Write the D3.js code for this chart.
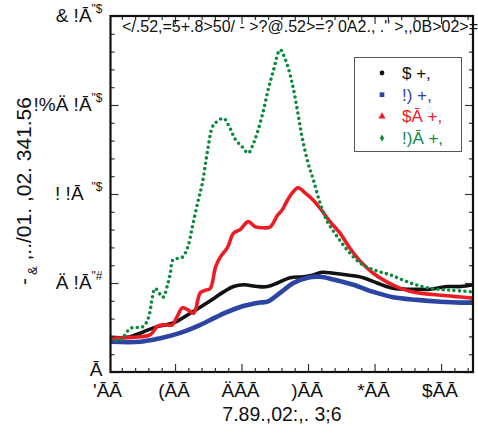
<!DOCTYPE html>
<html>
<head>
<meta charset="utf-8">
<script src="https://cdn.jsdelivr.net/npm/d3@7"></script>
<style>
  body { margin: 0; background: #fff; }
  svg { display: block; }
  text { font-family: "Liberation Sans", Arial, Helvetica, sans-serif; white-space: pre; }
</style>
</head>
<body>
<script>
// Tick positions and their labels
const xTickValues = [300, 400, 500, 600, 700, 800];
const xTickLabels = ["'ĀĀ", "(ĀĀ", "ÄĀĀ", ")ĀĀ", "*ĀĀ", "$ĀĀ"];
const yTickValues = [0, 1, 2, 3, 4];
const yTickMain = ["Ā", "Ä !Ā", "! !Ā", "!%Ä !Ā", "& !Ā"];
const yTickSup = ["", "\"#", "\"$", "\"$", "\"$"];

// Series names and colours
const seriesNames = ["$ +,", "!) +,", "$Ā +,", "!)Ā +,"];
const seriesColors = ["#111111", "#2d45a2", "#ec1c24", "#0b8a3e"];

// Measured curves: [x, y]
const blackSeries = [[303,0.39],[328,0.39],[352,0.45],[373,0.51],[397,0.55],[423,0.66],[449,0.78],[473,0.90],[488,0.96],[503,0.98],[524,0.96],[539,0.96],[554,1.00],[573,1.06],[593,1.07],[608,1.09],[621,1.12],[638,1.11],[659,1.09],[683,1.06],[704,1.00],[728,0.94],[758,0.93],[784,0.93],[809,0.96],[829,0.96],[848,0.98]];
const blueSeries = [[303,0.34],[348,0.34],[378,0.38],[408,0.44],[438,0.53],[468,0.64],[498,0.73],[528,0.78],[539,0.79],[558,0.89],[578,1.00],[599,1.06],[618,1.07],[638,1.04],[668,0.98],[698,0.90],[728,0.84],[764,0.81],[799,0.79],[829,0.78],[848,0.78]];
const redSeries = [[303,0.38],[337,0.39],[363,0.42],[373,0.51],[382,0.53],[396,0.53],[403,0.62],[411,0.72],[419,0.70],[428,0.66],[438,0.89],[446,0.92],[453,0.94],[461,1.18],[468,1.29],[479,1.40],[488,1.56],[498,1.60],[510,1.69],[521,1.63],[533,1.62],[543,1.63],[554,1.76],[561,1.82],[569,1.93],[576,2.01],[585,2.07],[596,2.01],[608,1.93],[618,1.84],[633,1.69],[648,1.56],[663,1.39],[679,1.24],[698,1.11],[719,1.01],[739,0.94],[764,0.89],[788,0.87],[818,0.85],[848,0.83]];
const greenSeries = [[303,0.36],[318,0.36],[333,0.49],[352,0.51],[360,0.61],[366,0.84],[370,0.94],[382,0.84],[388,0.96],[393,1.11],[397,1.26],[411,1.29],[419,1.40],[426,1.63],[434,1.90],[441,2.12],[449,2.49],[456,2.75],[461,2.80],[473,2.85],[480,2.78],[491,2.61],[501,2.53],[510,2.46],[518,2.57],[525,2.72],[533,2.94],[540,3.17],[548,3.39],[558,3.62],[566,3.51],[576,3.25],[584,2.94],[591,2.64],[600,2.35],[608,2.16],[618,1.90],[629,1.69],[644,1.52],[659,1.37],[679,1.22],[698,1.15],[724,1.09],[754,1.00],[784,0.94],[814,0.92],[848,0.90]];

// Chart title and axis titles
const chartTitle = "</.52,=5+.8>50/ - >?@.52>=? 0A2., .\" >,,0B>02>=";
const xTitle = "7.89.,02:,. 3;6";
const yTitleParts = ["-", "&", " ,../01. ,02. 341.56"];

const W = 478, H = 434;
const plot = { left: 110.5, right: 473, top: 16, bottom: 372 };

const svg = d3.select("body").append("svg").attr("width", W).attr("height", H);

const x = d3.scaleLinear().domain([303, 848]).range([plot.left, plot.right]);
const y = d3.scaleLinear().domain([0, 4]).range([plot.bottom, plot.top]);

// Clip region for the curves
svg.append("defs").append("clipPath").attr("id", "plotClip")
  .append("rect")
  .attr("x", plot.left).attr("y", plot.top)
  .attr("width", plot.right - plot.left).attr("height", plot.bottom - plot.top);

// Curves
const line = d3.line().x(d => x(d[0])).y(d => y(d[1])).curve(d3.curveCatmullRom.alpha(0.5));
const curves = svg.append("g").attr("clip-path", "url(#plotClip)");
const allSeries = [blackSeries, blueSeries, redSeries, greenSeries];
const widths = [3.6, 4.6, 3.6, 3.6];
allSeries.forEach((s, i) => {
  const p = curves.append("path").datum(s)
    .attr("d", line)
    .attr("fill", "none")
    .attr("stroke", seriesColors[i])
    .attr("stroke-width", widths[i])
    .attr("stroke-linejoin", "round")
    .attr("stroke-linecap", "round");
  if (i === 3) p.attr("stroke-dasharray", "0 5.4");
});

// Ticks: major via d3 axes, minor every 20 (x) and 0.2 (y), all pointing inward
const xMinor = d3.range(320, 848, 20).filter(v => v % 100 !== 0);
const yMinor = d3.range(0.2, 4, 0.2).filter(v => Math.abs(v - Math.round(v)) > 1e-6);
const tickColor = "#333";

function styleAxis(g) {
  g.select(".domain").remove();
  g.selectAll("line").attr("stroke", tickColor).attr("stroke-width", 1.2);
  g.selectAll("text").remove();
}
const xMajorIn = xTickValues.filter(v => x(v) > plot.left + 1);
svg.append("g").attr("transform", `translate(0,${plot.bottom})`)
  .call(d3.axisBottom(x).tickValues(xMajorIn).tickSize(-8)).call(styleAxis);
svg.append("g").attr("transform", `translate(0,${plot.bottom})`)
  .call(d3.axisBottom(x).tickValues(xMinor).tickSize(-4)).call(styleAxis);
svg.append("g").attr("transform", `translate(0,${plot.top})`)
  .call(d3.axisTop(x).tickValues(xMajorIn).tickSize(-8)).call(styleAxis);
svg.append("g").attr("transform", `translate(0,${plot.top})`)
  .call(d3.axisTop(x).tickValues(xMinor).tickSize(-4)).call(styleAxis);
svg.append("g").attr("transform", `translate(${plot.left},0)`)
  .call(d3.axisLeft(y).tickValues(yTickValues).tickSize(-8)).call(styleAxis);
svg.append("g").attr("transform", `translate(${plot.left},0)`)
  .call(d3.axisLeft(y).tickValues(yMinor).tickSize(-4)).call(styleAxis);
svg.append("g").attr("transform", `translate(${plot.right},0)`)
  .call(d3.axisRight(y).tickValues(yTickValues).tickSize(-8)).call(styleAxis);
svg.append("g").attr("transform", `translate(${plot.right},0)`)
  .call(d3.axisRight(y).tickValues(yMinor).tickSize(-4)).call(styleAxis);

// Frame
svg.append("rect")
  .attr("x", plot.left).attr("y", plot.top)
  .attr("width", plot.right - plot.left).attr("height", plot.bottom - plot.top)
  .attr("fill", "none").attr("stroke", "#111").attr("stroke-width", 2.2);

// X tick labels
svg.append("g").selectAll("text").data(xTickValues).join("text")
  .attr("x", d => x(d) - 1)
  .attr("y", plot.bottom + 25)
  .attr("text-anchor", "middle")
  .attr("font-size", 19)
  .attr("fill", "#111")
  .text((d, i) => xTickLabels[i]);

// Y tick labels with superscripts
const yl = svg.append("g").selectAll("text").data(yTickValues).join("text")
  .attr("x", plot.left - 8)
  .attr("y", d => y(d) + (d === 0 ? 4 : 6))
  .attr("text-anchor", "end")
  .attr("font-size", 19)
  .attr("fill", "#111");
yl.append("tspan").text((d, i) => yTickMain[i]);
yl.append("tspan")
  .attr("font-size", 12)
  .attr("dy", -9)
  .attr("dx", (d, i) => i === 2 ? 8 : 0)
  .text((d, i) => yTickSup[i]);

// Axis titles
svg.append("text")
  .attr("x", 282).attr("y", 421)
  .attr("text-anchor", "middle")
  .attr("font-size", 19.5)
  .attr("fill", "#111")
  .text(xTitle);

const yt = svg.append("text")
  .attr("transform", "translate(31,191) rotate(-90)")
  .attr("text-anchor", "middle")
  .attr("font-size", 21)
  .attr("fill", "#111");
yt.append("tspan").text(yTitleParts[0]);
yt.append("tspan").attr("font-size", 13).attr("dy", 6).attr("dx", 3).text(yTitleParts[1]);
yt.append("tspan").attr("dy", -6).text(yTitleParts[2]);

// Title inside the plot
svg.append("text")
  .attr("x", 122).attr("y", 32)
  .attr("font-size", 16)
  .attr("fill", "#111")
  .text(chartTitle);

// Legend
const lg = svg.append("g");
lg.append("rect")
  .attr("x", 354.5).attr("y", 57.5).attr("width", 107).attr("height", 94)
  .attr("fill", "#fff").attr("stroke", "#555").attr("stroke-width", 1);
const symbolTypes = [d3.symbolCircle, d3.symbolSquare, d3.symbolTriangle, d3.symbolDiamond];
const symbolSizes = [18, 22, 22, 16];
seriesNames.forEach((name, i) => {
  const cy = 73 + i * 21.7;
  lg.append("path")
    .attr("transform", `translate(382,${cy})`)
    .attr("d", d3.symbol().type(symbolTypes[i]).size(symbolSizes[i])())
    .attr("fill", seriesColors[i]);
  lg.append("text")
    .attr("x", 402).attr("y", cy + 6)
    .attr("font-size", 17)
    .attr("fill", seriesColors[i])
    .text(name);
});
</script>
</body>
</html>
